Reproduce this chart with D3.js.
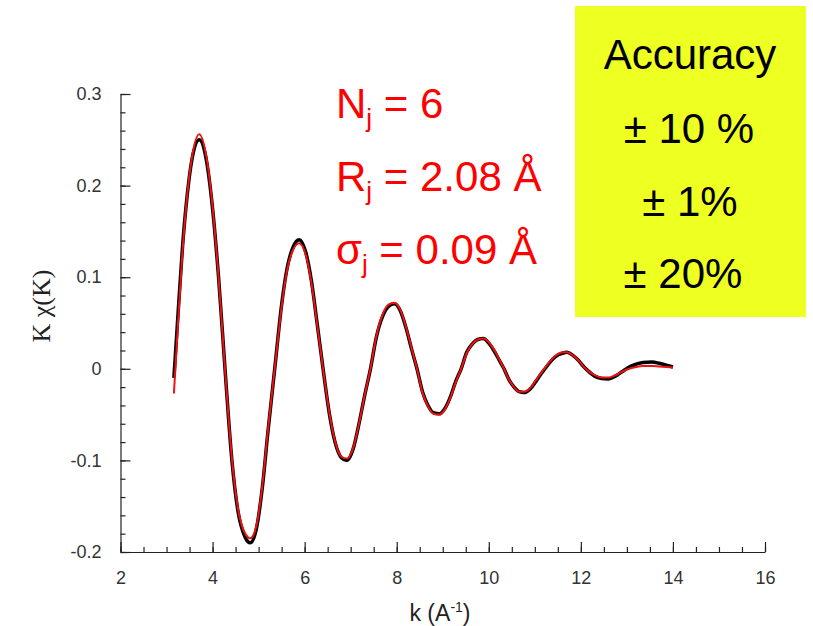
<!DOCTYPE html>
<html>
<head>
<meta charset="utf-8">
<script src="https://cdn.jsdelivr.net/npm/d3@7/dist/d3.min.js"></script>
<style>
  html, body { margin: 0; padding: 0; background: #fff; }
  svg { display: block; }
</style>
</head>
<body>
<svg id="chart" width="813" height="626"></svg>
<script>
// EXAFS k-space: measured k·chi(k) and the single-shell fit
const kValues = [3.16, 3.25, 3.35, 3.45, 3.55, 3.71, 3.85, 4.0, 4.13, 4.27, 4.42, 4.55, 4.7, 4.82, 4.95,
  5.08, 5.2, 5.35, 5.5, 5.62, 5.75, 5.88, 6.02, 6.15, 6.27, 6.4, 6.54, 6.66, 6.8, 6.92, 7.05, 7.18,
  7.3, 7.43, 7.56, 7.7, 7.82, 7.95, 8.08, 8.2, 8.32, 8.44, 8.56, 8.68, 8.8, 8.93, 9.05, 9.17, 9.28,
  9.4, 9.52, 9.64, 9.76, 9.88, 10.0, 10.11, 10.22, 10.33, 10.44, 10.55, 10.66, 10.77, 10.9, 11.02,
  11.13, 11.25, 11.38, 11.5, 11.6, 11.7, 11.82, 11.95, 12.05, 12.15, 12.3, 12.45, 12.6, 12.75, 12.9,
  13.05, 13.2, 13.35, 13.55, 13.7, 13.85, 14.0];

const chiData = [-0.01, 0.06, 0.135, 0.19, 0.228, 0.250, 0.232, 0.175, 0.1, 0.0, -0.1, -0.155, -0.183, -0.190, -0.175,
  -0.13, -0.07, 0.0, 0.07, 0.11, 0.133, 0.141, 0.128, 0.095, 0.05, 0.0, -0.05, -0.08, -0.097, -0.100, -0.088, -0.06,
  -0.03, 0.0, 0.035, 0.058, 0.068, 0.071, 0.063, 0.045, 0.022, 0.0, -0.025, -0.04, -0.048, -0.049, -0.043, -0.03, -0.014,
  0.0, 0.018, 0.027, 0.032, 0.033, 0.028, 0.02, 0.01, 0.0, -0.012, -0.02, -0.025, -0.026, -0.022, -0.014,
  -0.006, 0.002, 0.01, 0.015, 0.017, 0.018, 0.015, 0.009, 0.003, -0.002, -0.008, -0.0105, -0.011, -0.008, -0.003,
  0.002, 0.005, 0.007, 0.0075, 0.006, 0.004, 0.002];

const chiFit = [-0.027, 0.05, 0.13, 0.19, 0.23, 0.256, 0.236, 0.177, 0.1, 0.0, -0.098, -0.152, -0.179, -0.185, -0.172,
  -0.128, -0.068, 0.0, 0.068, 0.108, 0.13, 0.137, 0.125, 0.093, 0.049, 0.0, -0.049, -0.079, -0.096, -0.098, -0.087, -0.06,
  -0.03, 0.0, 0.036, 0.06, 0.07, 0.072, 0.064, 0.046, 0.023, 0.0, -0.026, -0.041, -0.049, -0.05, -0.044, -0.031, -0.015,
  0.0, 0.017, 0.027, 0.032, 0.033, 0.029, 0.021, 0.011, 0.0, -0.012, -0.02, -0.025, -0.025, -0.021, -0.013,
  -0.005, 0.003, 0.011, 0.016, 0.018, 0.018, 0.015, 0.009, 0.003, -0.002, -0.007, -0.0095, -0.0095, -0.007, -0.003,
  0.0, 0.002, 0.003, 0.003, 0.0025, 0.002, 0.0015];

const xTicks = [2, 4, 6, 8, 10, 12, 14, 16];
const yTicks = [-0.2, -0.1, 0, 0.1, 0.2, 0.3];

const fitLabels = [
  { sym: "N", sub: "j", rest: " = 6" },
  { sym: "R", sub: "j", rest: " = 2.08 Å" },
  { sym: "σ", sub: "j", rest: " = 0.09 Å" }
];
const accuracyLines = ["Accuracy", "± 10 %", "± 1%", "± 20%"];

const svg = d3.select("#chart");

const x = d3.scaleLinear().domain([2, 16]).range([120.5, 765]);
const y = d3.scaleLinear().domain([-0.2, 0.3]).range([552, 94]);

const tickFont = "Liberation Sans, Arial, sans-serif";

// minor ticks
svg.append("g")
  .attr("transform", "translate(0,552)")
  .call(d3.axisBottom(x).tickValues(d3.range(2, 16.01, 0.5)).tickSize(-5).tickFormat(""))
  .call(g => g.select(".domain").remove());
svg.append("g")
  .attr("transform", "translate(120.5,0)")
  .call(d3.axisLeft(y).tickValues(d3.range(-0.2, 0.301, 0.02)).tickSize(-5).tickFormat(""))
  .call(g => g.select(".domain").remove());

// major axes
svg.append("g")
  .attr("transform", "translate(0,552)")
  .call(d3.axisBottom(x).tickValues(xTicks).tickSize(-10).tickSizeOuter(0).tickPadding(19).tickFormat(d3.format("d")));
svg.append("g")
  .attr("transform", "translate(120.5,0)")
  .call(d3.axisLeft(y).tickValues(yTicks).tickSize(-10).tickSizeOuter(0).tickPadding(19)
    .tickFormat(d => d === 0 ? "0" : d3.format(".1f")(d).replace("−", "-")));

svg.selectAll(".tick line, .domain").attr("stroke", "#222").attr("stroke-width", 1.2);
svg.selectAll(".tick text")
  .attr("font-family", tickFont)
  .attr("font-size", 18)
  .attr("fill", "#333");

// axis titles
svg.append("text")
  .attr("x", 440).attr("y", 621)
  .attr("text-anchor", "middle")
  .attr("font-family", tickFont).attr("font-size", 23).attr("fill", "#222")
  .call(t => {
    t.append("tspan").text("k (A");
    t.append("tspan").attr("font-size", 14).attr("dy", -9).text("-1");
    t.append("tspan").attr("dy", 9).text(")");
  });

svg.append("text")
  .attr("transform", "translate(50,306) rotate(-90)")
  .attr("text-anchor", "middle")
  .attr("font-family", "Liberation Serif, Times New Roman, serif")
  .attr("font-size", 26).attr("fill", "#222")
  .text("K χ(K)");

// curves
const pts = vals => kValues.map((k, i) => [k, vals[i]]);
const line = d3.line().x(d => x(d[0])).y(d => y(d[1])).curve(d3.curveMonotoneX);

svg.append("path")
  .attr("d", line(pts(chiData)))
  .attr("fill", "none").attr("stroke", "#000").attr("stroke-width", 3.5)
  .attr("stroke-linejoin", "round");

svg.append("path")
  .attr("d", line(pts(chiFit)))
  .attr("fill", "none").attr("stroke", "#ee1111").attr("stroke-width", 2)
  .attr("stroke-linejoin", "round");

// fit parameters
const fitG = svg.append("g")
  .attr("font-family", tickFont).attr("fill", "#ff0000");
fitLabels.forEach((d, i) => {
  const t = fitG.append("text")
    .attr("x", 336).attr("y", 118 + i * 73)
    .attr("font-size", 42);
  t.append("tspan").text(d.sym);
  t.append("tspan").attr("font-size", 26).attr("dy", 9).text(d.sub);
  t.append("tspan").attr("dy", -9).text(d.rest);
});

// accuracy box
svg.append("rect")
  .attr("x", 575).attr("y", 6).attr("width", 231).attr("height", 311)
  .attr("fill", "#eeff22");
const accX = [690, 689, 690, 683];
const accY = [69, 143, 216, 288];
svg.append("g")
  .attr("font-family", tickFont).attr("font-size", 42).attr("fill", "#000")
  .attr("text-anchor", "middle")
  .selectAll("text").data(accuracyLines).join("text")
  .attr("x", (d, i) => accX[i]).attr("y", (d, i) => accY[i])
  .text(d => d);
</script>
</body>
</html>
